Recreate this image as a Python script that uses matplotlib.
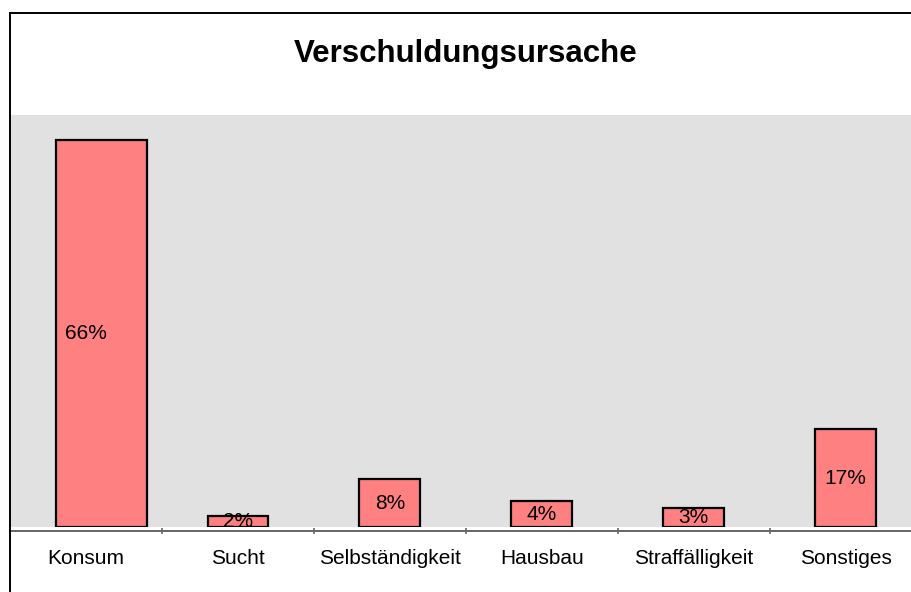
import matplotlib
matplotlib.use("Agg")
import matplotlib.pyplot as plt
from matplotlib.lines import Line2D

plt.rcParams['font.family'] = ['Liberation Sans', 'DejaVu Sans']

# data
categories = ['Konsum', 'Sucht', 'Selbständigkeit', 'Hausbau', 'Straffälligkeit', 'Sonstiges']
shares = [65.8, 1.8, 8.1, 4.4, 3.3, 16.6]
labels = ['66%', '2%', '8%', '4%', '3%', '17%']

fig = plt.figure(figsize=(9.11, 5.92), dpi=100)
ax = fig.add_axes([10 / 911, 65 / 592, 901 / 911, 412 / 592])
ax.set_facecolor('#e1e1e1')

x = list(range(len(categories)))
# first bar is drawn wider in the original
widths = [0.6] + [0.4] * (len(categories) - 1)
ax.bar([i - 0.2 for i in x], shares, width=widths, align='edge',
       color='#ff8080', edgecolor='black', linewidth=1.6, zorder=3)

for i, (v, lab) in enumerate(zip(shares, labels)):
    ax.text(i, v / 2, lab, ha='center', va='center', fontsize=15, zorder=4)

ax.set_xlim(-0.5, 5.43)
ax.set_ylim(0, 70)
ax.set_yticks([])

# category labels at centres, tick marks between categories
ax.set_xticks(x)
ax.set_xticklabels(categories)
ax.tick_params(axis='x', which='major', length=0, pad=13, labelsize=15)
ax.set_xticks([i + 0.5 for i in x[:-1]], minor=True)
ax.tick_params(axis='x', which='minor', length=5, direction='inout', color='#666666', width=1.2)

for s in ['left', 'right', 'top']:
    ax.spines[s].set_visible(False)
ax.spines['bottom'].set_position(('outward', 3))
ax.spines['bottom'].set_color('#666666')
ax.spines['bottom'].set_linewidth(1.4)

fig.text(466 / 911, 1 - 54 / 592, 'Verschuldungsursache', ha='center', va='center',
         fontsize=22.5, fontweight='bold')

# frame around the figure (left and top edges visible)
fig.add_artist(Line2D([10 / 911, 10 / 911], [0, 1 - 12.5 / 592], color='black', lw=1.4))
fig.add_artist(Line2D([10 / 911, 1], [1 - 12.5 / 592, 1 - 12.5 / 592], color='black', lw=1.4))

fig.savefig('out.png', dpi=100)
